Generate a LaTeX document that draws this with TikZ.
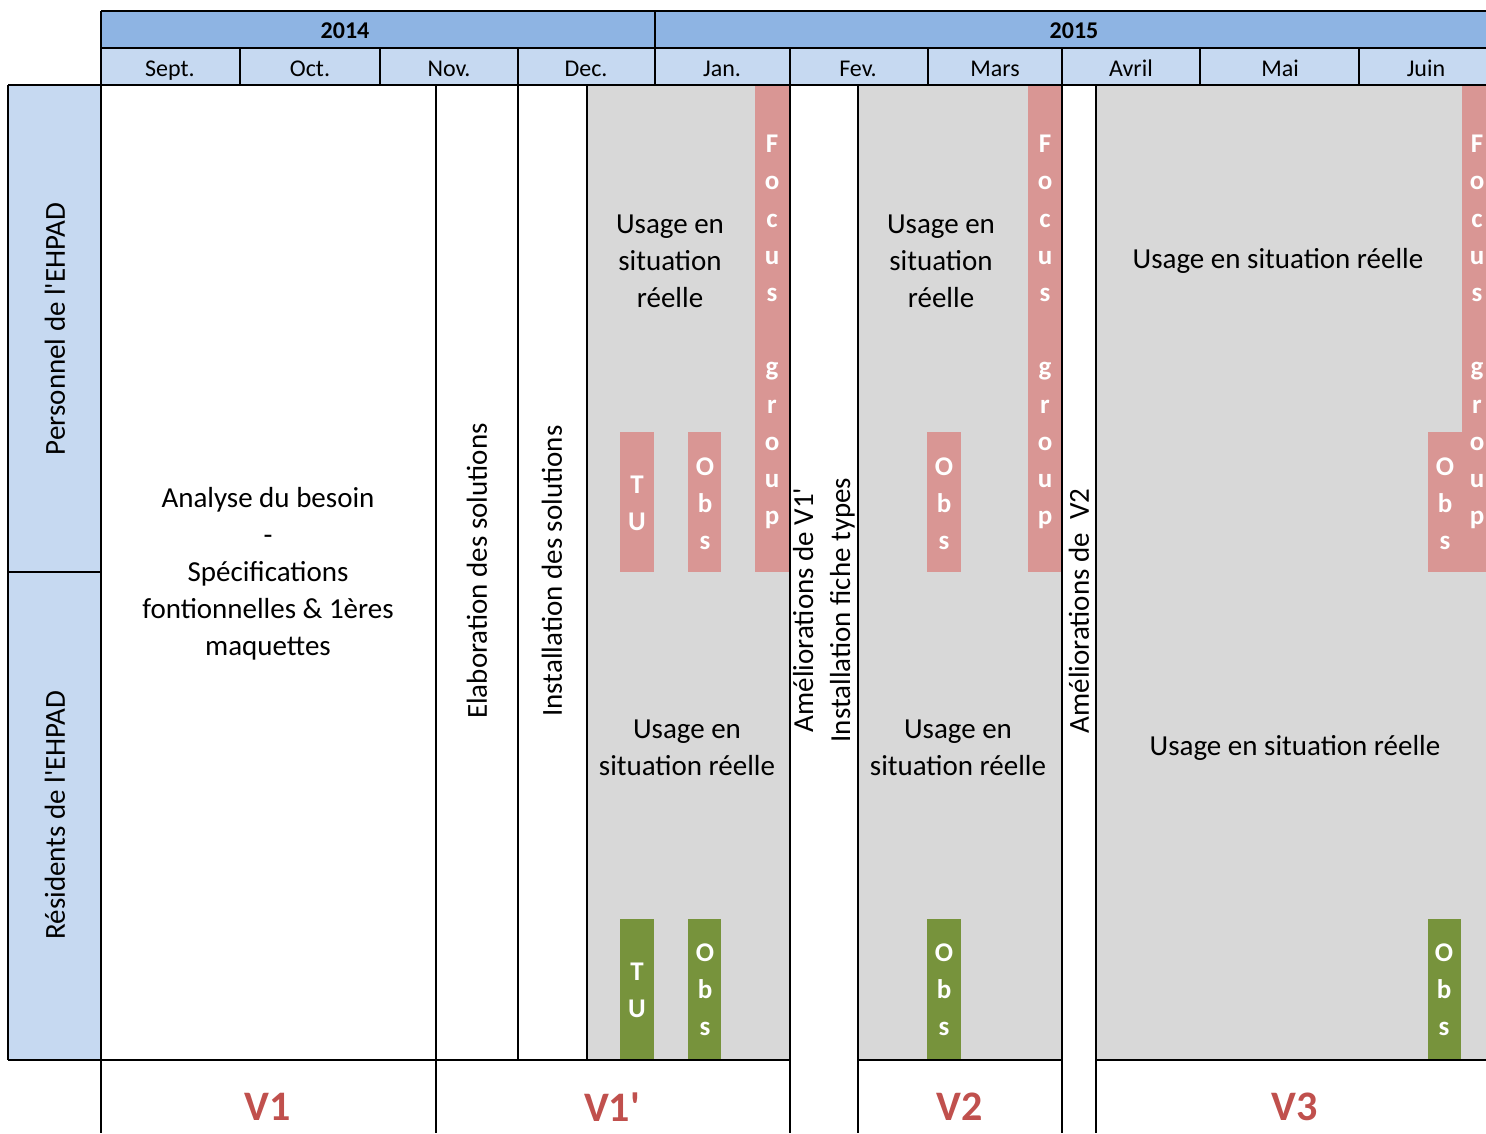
\documentclass[tikz,border=0pt]{standalone}
\usepackage{fontspec}
\setmainfont{Carlito}[Ligatures=TeXOff]
\definecolor{yearblue}{RGB}{142,180,227}
\definecolor{lightblue}{RGB}{198,217,241}
\definecolor{cellgrey}{RGB}{216,216,216}
\definecolor{pinkbar}{RGB}{217,150,148}
\definecolor{greenbar}{RGB}{119,147,60}
\definecolor{vred}{RGB}{192,80,77}
\begin{document}
\begin{tikzpicture}[x=1pt,y=-1pt,
  txt/.style={font=\fontsize{29}{37}\selectfont, align=center, inner sep=0pt, text=black},
  rtxt/.style={txt, rotate=90},
  mon/.style={font=\fontsize{24}{28}\selectfont, inner sep=0pt, anchor=base},
  yr/.style={font=\bfseries\fontsize{24}{28}\selectfont, inner sep=0pt, anchor=base},
  ver/.style={font=\bfseries\fontsize{42}{48}\selectfont, text=vred, inner sep=0pt},
  lett/.style={font=\bfseries\fontsize{27}{37.2}\selectfont, text=white, align=center, inner sep=0pt},
  grid/.style={line width=1.6pt, black}]
\useasboundingbox (0,0) rectangle (1486,1133);
\fill[white] (0,0) rectangle (1486,1133);
% fills
\fill[yearblue] (101,11) rectangle (1486,48);
\fill[lightblue] (101,48) rectangle (1486,85);
\fill[lightblue] (8,85) rectangle (101,1060);
\fill[cellgrey] (587,85) rectangle (790,1060);
\fill[cellgrey] (858,85) rectangle (1062,1060);
\fill[cellgrey] (1096,85) rectangle (1486,1060);
% pink bars
\fill[pinkbar] (755,85) rectangle (790,572);
\fill[pinkbar] (620,432) rectangle (654,572);
\fill[pinkbar] (688,432) rectangle (721,572);
\fill[pinkbar] (1028,85) rectangle (1062,572);
\fill[pinkbar] (927,432) rectangle (961,572);
\fill[pinkbar] (1462,85) rectangle (1486,572);
\fill[pinkbar] (1428,432) rectangle (1462,572);
% green bars
\fill[greenbar] (620,919) rectangle (654,1060);
\fill[greenbar] (688,919) rectangle (721,1060);
\fill[greenbar] (927,919) rectangle (961,1060);
\fill[greenbar] (1428,919) rectangle (1461,1060);
% grid lines
\draw[grid] (101,11) -- (1486,11);
\draw[grid] (101,48) -- (1486,48);
\draw[grid] (8,85) -- (1486,85);
\draw[grid] (8,572) -- (101,572);
\draw[grid] (8,1060) -- (790,1060);
\draw[grid] (858,1060) -- (1062,1060);
\draw[grid] (1096,1060) -- (1486,1060);
\draw[grid] (101,11) -- (101,85);
\draw[grid] (655,11) -- (655,85);
\foreach \mx in {240,380,518,790,928,1062,1200,1359} \draw[grid] (\mx,48) -- (\mx,85);
\draw[grid] (8,85) -- (8,1060);
\foreach \vx in {101,436,790,858,1062,1096} \draw[grid] (\vx,85) -- (\vx,1133);
\foreach \vx in {518,587} \draw[grid] (\vx,85) -- (\vx,1060);
% header text
\node[yr] (y2014) at (345,38) {2014};
\node[yr] (y2015) at (1074,38) {2015};
\node[mon] (msep) at (170,76) {Sept.};
\node[mon] (moct) at (310,76) {Oct.};
\node[mon] (mnov) at (449,76) {Nov.};
\node[mon] (mdec) at (586,76) {Dec.};
\node[mon] (mjan) at (722,76) {Jan.};
\node[mon] (mfev) at (858,76) {Fev.};
\node[mon] (mmar) at (995,76) {Mars};
\node[mon] (mavr) at (1131,76) {Avril};
\node[mon] (mmai) at (1280,76) {Mai};
\node[mon] (mjui) at (1426,76) {Juin};
% row labels
\node[rtxt] (rowp) at (55,329) {Personnel de l'EHPAD};
\node[rtxt] (rowr) at (55,815) {Résidents de l'EHPAD};
% body texts
\node[txt] (analyse) at (268,574) {Analyse du besoin\\-\\Spécifications\\fontionnelles \& 1ères\\maquettes};
\node[rtxt] (elab) at (477,571) {Elaboration des solutions};
\node[rtxt] (inst) at (552,571) {Installation des solutions};
\node[txt] (u1p) at (670,261) {Usage en\\situation\\réelle};
\node[txt] (u1r) at (687,748) {Usage en\\situation réelle};
\node[rtxt] (amv1) at (824,610) {Améliorations de V1'\\Installation fiche types};
\node[txt] (u2p) at (941,261) {Usage en\\situation\\réelle};
\node[txt] (u2r) at (958,748) {Usage en\\situation réelle};
\node[rtxt] (amv2) at (1079,611) {Améliorations de~~V2};
\node[txt] (u3p) at (1278,261) {Usage en situation réelle};
\node[txt] (u3r) at (1295,748) {Usage en situation réelle};
% bar letters
\node[lett] (fg1) at (772,332) {F\\o\\c\\u\\s\\[37.2pt]g\\r\\o\\u\\p};
\node[lett] (fg2) at (1045,332) {F\\o\\c\\u\\s\\[37.2pt]g\\r\\o\\u\\p};
\node[lett] (fg3) at (1477,332) {F\\o\\c\\u\\s\\[37.2pt]g\\r\\o\\u\\p};
\node[lett] (tu1) at (637,503) {T\\U};
\node[lett] (ob1) at (705,504) {O\\b\\s};
\node[lett] (ob2) at (944,504) {O\\b\\s};
\node[lett] (ob3) at (1445,504) {O\\b\\s};
\node[lett] (tu1g) at (637,990) {T\\U};
\node[lett] (ob1g) at (705,990) {O\\b\\s};
\node[lett] (ob2g) at (944,990) {O\\b\\s};
\node[lett] (ob3g) at (1444,990) {O\\b\\s};
% version labels
\node[ver] (v1) at (268,1107) {V1};
\node[ver] (v1p) at (612,1107) {V1'};
\node[ver] (v2) at (960,1107) {V2};
\node[ver] (v3) at (1295,1107) {V3};
\end{tikzpicture}
\end{document}
